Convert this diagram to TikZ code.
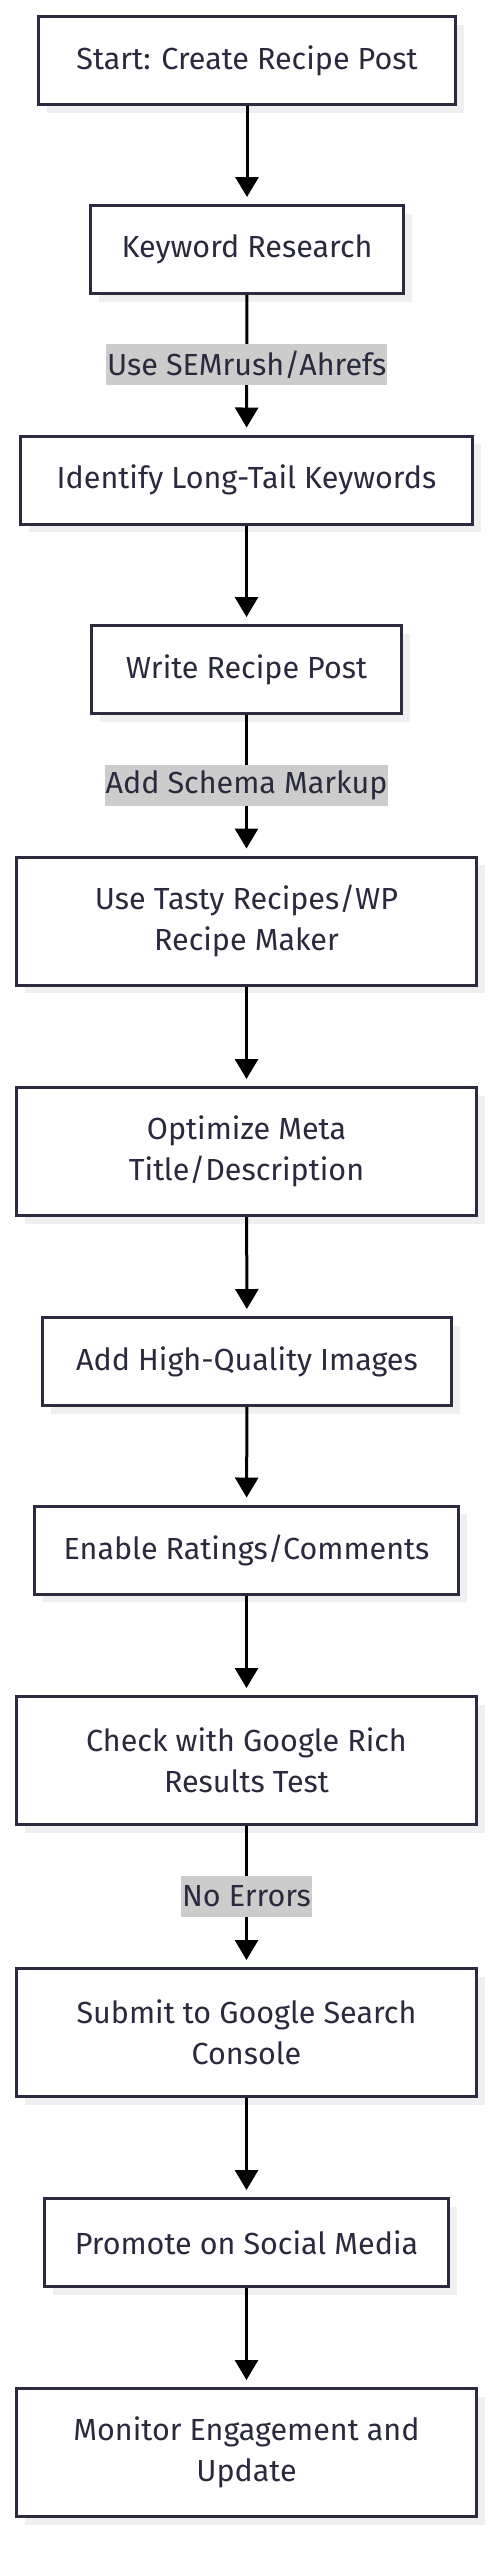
\documentclass[tikz,border=0pt]{standalone}
\usepackage{fontspec}
\setmainfont{Fira Sans}
\usetikzlibrary{arrows.meta,shadows}
\definecolor{boxline}{RGB}{43,43,64}
\definecolor{boxtext}{RGB}{42,42,62}
\definecolor{lblfill}{RGB}{204,204,204}
\definecolor{shade}{RGB}{239,239,241}

\begin{document}
\begin{tikzpicture}[x=1pt,y=-1pt,>={Triangle[width=23pt,length=20pt]},
  stepbox/.style={draw=boxline,line width=3pt,fill=white,text=boxtext,
    align=center,inner sep=0pt,minimum height=88pt,
    font=\fontsize{30.5}{41}\selectfont,
    drop shadow={shadow xshift=8pt,shadow yshift=-8pt,fill=shade,opacity=1}},
  tallbox/.style={stepbox,minimum width=460pt,minimum height=128pt},
  flow/.style={->,line width=3pt,shorten >=7pt},
  edgelbl/.style={fill=lblfill,text=boxtext,inner xsep=1pt,inner ysep=0pt,
    minimum height=41pt,font=\fontsize{30.5}{41}\selectfont}]
  \useasboundingbox (0,0) rectangle (499,2560);
  %boxes
  \node[stepbox,minimum width=417pt] (start) at (247,60.5) {Start: Create Recipe Post};
  \node[stepbox,minimum width=313pt] (kwres) at (247,249.5) {Keyword Research};
  \node[stepbox,minimum width=452pt] (longtail) at (246.5,480) {Identify Long-Tail Keywords};
  \node[stepbox,minimum width=310pt] (write) at (246.5,669.5) {Write Recipe Post};
  \node[tallbox] (plugin) at (246.5,921) {Use Tasty Recipes/WP\\Recipe Maker};
  \node[tallbox] (meta) at (246.5,1151.5) {Optimize Meta\\Title/Description};
  \node[stepbox,minimum width=409pt] (images) at (247,1361.5) {Add High-Quality Images};
  \node[stepbox,minimum width=424pt] (ratings) at (246.5,1550) {Enable Ratings/Comments};
  \node[tallbox] (richtest) at (246.5,1760.5) {Check with Google Rich\\Results Test};
  \node[tallbox] (console) at (246.5,2032.5) {Submit to Google Search\\Console};
  \node[stepbox,minimum width=404pt] (social) at (246.5,2242.5) {Promote on Social Media};
  \node[tallbox] (monitor) at (246.5,2452.5) {Monitor Engagement and\\Update};
  %arrows
  \draw[flow] (start) -- (kwres);
  \draw[flow] (kwres) -- node[edgelbl] {Use SEMrush/Ahrefs} (longtail);
  \draw[flow] (longtail) -- (write);
  \draw[flow] (write) -- node[edgelbl] {Add Schema Markup} (plugin);
  \draw[flow] (plugin) -- (meta);
  \draw[flow] (meta) -- (images);
  \draw[flow] (images) -- (ratings);
  \draw[flow] (ratings) -- (richtest);
  \draw[flow] (richtest) -- node[edgelbl] {No Errors} (console);
  \draw[flow] (console) -- (social);
  \draw[flow] (social) -- (monitor);
\end{tikzpicture}
\end{document}
